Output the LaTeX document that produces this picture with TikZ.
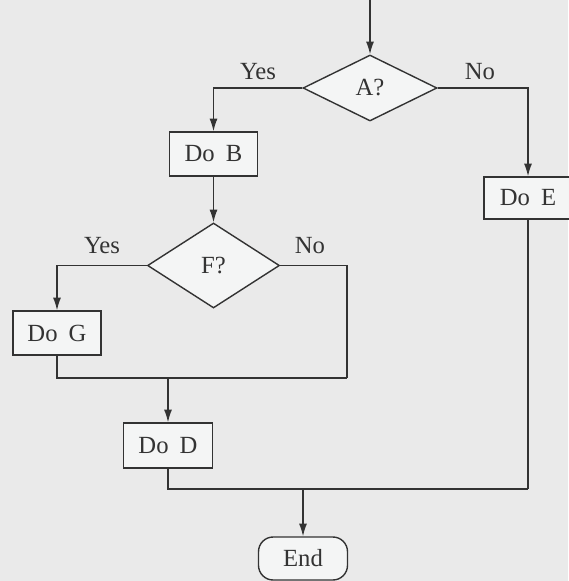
\documentclass[tikz,border=0pt]{standalone}
\usepackage{fontspec}
\setmainfont{Liberation Serif}
\usetikzlibrary{shapes.geometric,arrows.meta}
\definecolor{bgc}{HTML}{EAEAEA}
\definecolor{inkc}{HTML}{333333}
\definecolor{boxc}{HTML}{F4F5F5}
\tikzset{
  lbl/.style={font=\fontsize{18.5}{21}\selectfont, text=inkc, inner sep=0pt},
  procbox/.style={lbl, draw=inkc, line width=1.05pt, fill=boxc, minimum width=66pt, minimum height=33pt},
  decide/.style={lbl, diamond, draw=inkc, line width=1.05pt, fill=boxc, inner sep=0pt},
  termbox/.style={lbl, draw=inkc, line width=1.05pt, fill=boxc, rounded corners=11pt, minimum width=66.75pt, minimum height=32.25pt},
  conn/.style={draw=inkc, line width=1.05pt},
  arr/.style={conn, -{Latex[length=9.5pt,width=6pt]}},
  ans/.style={lbl, anchor=base}
}
\begin{document}
\begin{tikzpicture}[x=0.75pt, y=-0.75pt]
\fill[bgc] (0,0) rectangle (568,581);
\useasboundingbox (0,0) rectangle (568,581);
\coordinate (start) at (370,0);
\node[decide, minimum width=100.5pt, minimum height=49.5pt] (A) at (370,88) {A?};
\node[procbox] (B) at (213.5,154) {Do\hspace{0.45em}B};
\node[procbox, minimum height=31.5pt] (E) at (528,198) {Do\hspace{0.45em}E};
\node[decide, minimum width=99pt, minimum height=63.75pt] (F) at (213.5,265.5) {F?};
\node[procbox] (G) at (57,333) {Do\hspace{0.45em}G};
\node[procbox, minimum width=66.75pt, minimum height=33.75pt] (D) at (168,445.5) {Do\hspace{0.45em}D};
\node[termbox] (End) at (303,558.5) {End};
\node[ans] (yA) at (258,80) {Yes};
\node[ans] (nA) at (480,80) {No};
\node[ans] (yF) at (102,253) {Yes};
\node[ans] (nF) at (310,253) {No};
\coordinate (m1) at (347,378);
\coordinate (mD) at (168,378);
\coordinate (m2) at (528,489);
\coordinate (m3) at (303,489);
\draw[arr] (start) -- (A.north);
\draw[arr] (A.west) -| (B.north);
\draw[arr] (A.east) -| (E.north);
\draw[arr] (B.south) -- (F.north);
\draw[arr] (F.west) -| (G.north);
\draw[conn] (F.east) -| (m1);
\draw[conn] (G.south) |- (m1);
\draw[arr] (mD) -- (D.north);
\draw[conn] (D.south) |- (m2);
\draw[conn] (E.south) -- (m2);
\draw[arr] (m3) -- (End.north);
\end{tikzpicture}
\end{document}
